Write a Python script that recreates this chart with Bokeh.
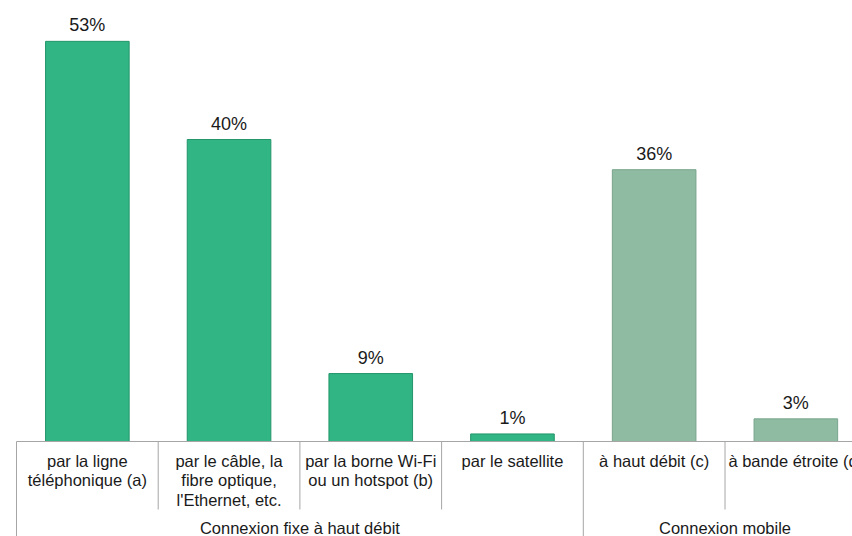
from bokeh.plotting import figure
from bokeh.models import Range1d, ColumnDataSource
from bokeh.core.properties import value
from bokeh.embed import file_html
from bokeh.resources import INLINE

# ---- data ----
categories = [
    "par la ligne\ntéléphonique (a)",
    "par le câble, la\nfibre optique,\nl'Ethernet, etc.",
    "par la borne Wi-Fi\nou un hotspot (b)",
    "par le satellite",
    "à haut débit (c)",
    "à bande étroite (d)",
]
values = [53, 40, 9, 1, 36, 3]
value_labels = ["53%", "40%", "9%", "1%", "36%", "3%"]
groups = ["Connexion fixe à haut débit", "Connexion mobile"]
group_sizes = [4, 2]
colors = ["#31b584", "#31b584", "#31b584", "#31b584", "#8fbba2", "#8fbba2"]
edge_colors = ["#23966a", "#23966a", "#23966a", "#23966a", "#79a58c", "#79a58c"]

# ---- layout ----
W, H = 852, 536
PX = 7.55          # pixels per percent
BASE = 441         # baseline pixel from top
CW = 141.7         # category width in px
LEFT = 16          # left edge of axis in px

p = figure(width=W, height=H, output_backend="svg", toolbar_location=None,
           x_range=Range1d(-LEFT / CW, (W - LEFT) / CW),
           y_range=Range1d(-(H - BASE) / PX, BASE / PX),
           min_border=0, outline_line_color=None)
p.axis.visible = False
p.grid.visible = False
p.background_fill_color = "white"
p.border_fill_color = "white"

n = len(categories)
xs = [i + 0.5 for i in range(n)]
src = ColumnDataSource(dict(x=xs, top=values, cat=categories, lab=value_labels,
                            color=colors, edge=edge_colors))

p.vbar(x="x", top="top", bottom=0, width=0.59, fill_color="color",
       line_color="edge", line_width=1, source=src)

# value labels
p.text(x="x", y="top", text="lab", source=src, text_align="center",
       text_baseline="middle", y_offset=-16, text_font=value("Liberation Sans"),
       text_font_size="18px", text_color="#1a1a1a")

# axis baseline
axis_col = "#a6a6a6"
p.segment(x0=[0], y0=[0], x1=[n + 1], y1=[0], line_color=axis_col, line_width=1)

# category separators
group_bounds = [0]
for s in group_sizes:
    group_bounds.append(group_bounds[-1] + s)
minor = [b for b in range(n + 1) if b not in group_bounds]
minor_bottom = -(509 - BASE) / PX
major_bottom = -(H - BASE) / PX
p.segment(x0=minor, y0=[0] * len(minor), x1=minor, y1=[minor_bottom] * len(minor),
          line_color=axis_col, line_width=1)
p.segment(x0=group_bounds, y0=[0] * len(group_bounds), x1=group_bounds,
          y1=[major_bottom] * len(group_bounds), line_color=axis_col, line_width=1)

# category labels
p.text(x="x", y=0, text="cat", source=src, text_align="center",
       text_baseline="top", y_offset=10, text_font=value("Liberation Sans"),
       text_font_size="16.5px", text_color="#1a1a1a", text_line_height=1.1)

# group labels
gx = [(group_bounds[i] + group_bounds[i + 1]) / 2 for i in range(len(groups))]
p.text(x=gx, y=[0] * len(groups), text=groups, text_align="center",
       text_baseline="middle", y_offset=86, text_font=value("Liberation Sans"),
       text_font_size="16.5px", text_color="#1a1a1a")

open("out.html", "w").write(file_html(p, INLINE))
